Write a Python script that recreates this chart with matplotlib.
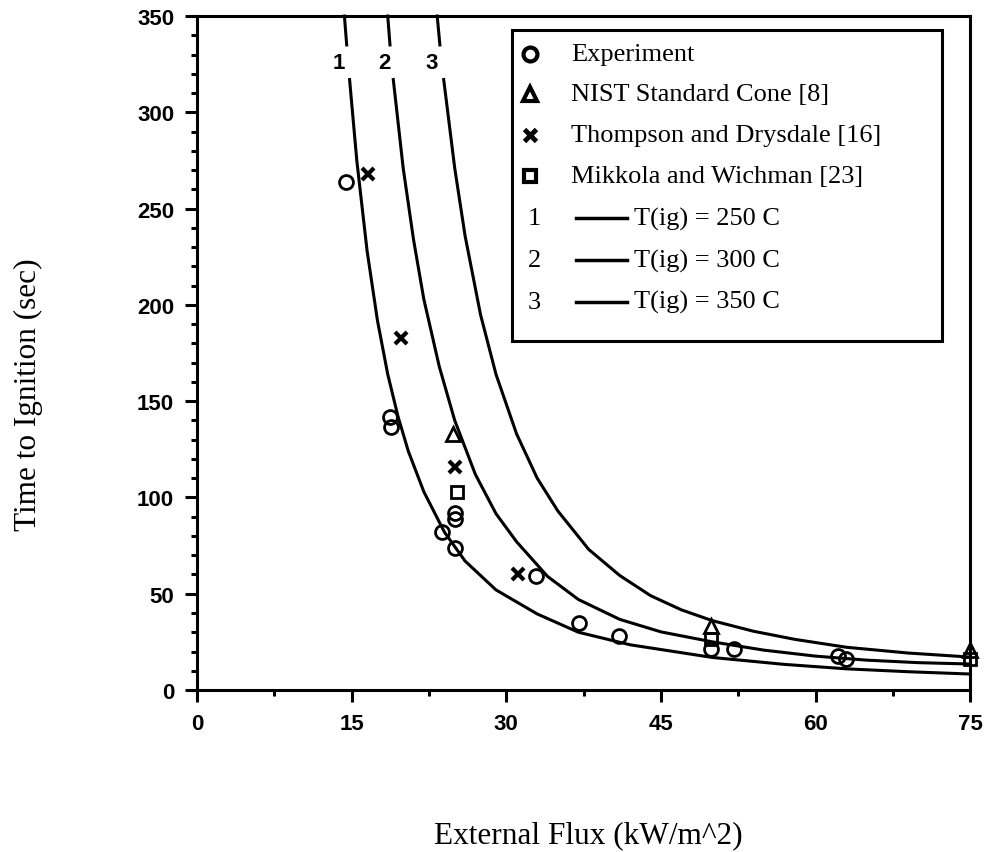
import numpy as np
import matplotlib
matplotlib.use("Agg")
import matplotlib.pyplot as plt
from matplotlib.patches import Rectangle
from matplotlib.ticker import MultipleLocator

nan = np.nan

# model curves (gap near the top for the 1/2/3 labels)
c1_x = [14.3, 14.52, nan, 14.8, 15.5, 16.5, 17.5, 18.5, 19.5, 20.5, 22.0, 24.0, 26.0,
        29.0, 33.0, 37.0, 42.0, 50.0, 57.0, 63.0, 69.0, 75.0]
c1_y = [350, 335, nan, 317, 275, 228, 192, 164, 142, 124, 103, 82, 67,
        52, 39.5, 30, 23.5, 16.9, 13.3, 11.0, 9.5, 8.3]

c2_x = [18.5, 18.72, nan, 19.04, 20.0, 21.0, 22.0, 23.5, 25.0, 27.0, 29.0, 31.0,
        34.0, 37.0, 41.0, 45.0, 50.0, 55.0, 60.0, 65.0, 70.0, 75.0]
c2_y = [350, 335, nan, 317, 271, 234, 203, 168, 140, 112, 91.6, 77,
        59, 47, 36.7, 30.2, 25, 20.7, 17.6, 15.5, 14.2, 13.5]

c3_x = [23.3, 23.56, nan, 23.93, 25.0, 26.0, 27.5, 29.0, 31.0, 33.0, 35.0, 38.0,
        41.0, 44.0, 47.0, 50.0, 54.0, 58.0, 63.0, 69.0, 75.0]
c3_y = [350, 335, nan, 317, 271, 236, 195, 164, 133, 110, 93, 73,
        59.5, 49, 41.6, 36, 30.5, 26.3, 22.2, 19.2, 17.1]

curve_labels = ["1", "2", "3"]
curve_label_x = [13.75, 18.2, 22.8]
curve_label_y = 326

# measured points
exp_x = [14.5, 18.7, 18.8, 23.8, 25.0, 25.0, 25.0, 32.9, 37.1, 40.9, 49.9, 52.1, 62.2, 63.0]
exp_y = [264, 142, 136.5, 82, 92, 89, 74, 59, 35, 28, 21.3, 21.3, 17.7, 16.1]

nist_x = [24.8, 49.9, 75.0]
nist_y = [133, 33, 21]

td_x = [16.6, 19.8, 25.0, 31.1]
td_y = [268, 183, 116, 60]

mw_x = [25.2, 49.9, 75.0]
mw_y = [103, 26.5, 16]

legend_labels = ["Experiment", "NIST Standard Cone [8]",
                 "Thompson and Drysdale [16]", "Mikkola and Wichman [23]"]
line_labels = ["T(ig) = 250 C", "T(ig) = 300 C", "T(ig) = 350 C"]

serif = "Liberation Serif"
sans = "Liberation Sans"

fig = plt.figure(figsize=(9.92, 8.53), dpi=100)
ax = fig.add_axes([0.1986, 0.1899, 0.7794, 0.7901])

lw = 2.2
for cx, cy in [(c1_x, c1_y), (c2_x, c2_y), (c3_x, c3_y)]:
    ax.plot(cx, cy, color="black", lw=lw, clip_on=False)

for lab, lx in zip(curve_labels, curve_label_x):
    ax.text(lx, curve_label_y, lab, fontfamily=sans, fontweight="bold",
            fontsize=16, ha="center", va="center")

ms = 10
ax.plot(exp_x, exp_y, "o", mfc="none", mec="black", mew=2, ms=ms, clip_on=False)
ax.plot(nist_x, nist_y, "^", mfc="none", mec="black", mew=2, ms=ms, clip_on=False)
ax.plot(td_x, td_y, "x", color="black", mew=3, ms=8, clip_on=False)
ax.plot(mw_x, mw_y, "s", mfc="none", mec="black", mew=2, ms=ms - 1, clip_on=False)

ax.set_xlim(0, 75)
ax.set_ylim(0, 350)
ax.xaxis.set_major_locator(MultipleLocator(15))
ax.xaxis.set_minor_locator(MultipleLocator(7.5))
ax.yaxis.set_major_locator(MultipleLocator(50))
ax.yaxis.set_minor_locator(MultipleLocator(10))
ax.tick_params(which="both", direction="out", width=2.2, top=False, right=False)
ax.tick_params(which="major", length=8.5)
ax.tick_params(which="minor", length=4.3)
ax.tick_params(axis="x", which="major", pad=8)
ax.tick_params(axis="y", which="major", pad=8)
for s in ax.spines.values():
    s.set_linewidth(2.2)
for t in ax.get_xticklabels() + ax.get_yticklabels():
    t.set_fontfamily(sans)
    t.set_fontweight("bold")
    t.set_fontsize(16)

# hand-made legend box
ax.add_patch(Rectangle((0.408, 0.518), 0.556, 0.461, transform=ax.transAxes,
                       fill=False, lw=2.2, ec="black", zorder=5))
rows = [0.944, 0.884, 0.823, 0.762, 0.700, 0.638, 0.576]
marks = [dict(marker="o", mfc="none", mec="black", mew=3, ms=10),
         dict(marker="^", mfc="none", mec="black", mew=3, ms=10),
         dict(marker="x", color="black", mew=3.5, ms=8),
         dict(marker="s", mfc="none", mec="black", mew=3, ms=9)]
for r, lab, mk in zip(rows[:4], legend_labels, marks):
    ax.plot([0.431], [r], transform=ax.transAxes, clip_on=False, ls="none", **mk)
    ax.text(0.484, r, lab, transform=ax.transAxes, fontfamily=serif,
            fontsize=19, va="center", ha="left")
for r, num, lab in zip(rows[4:], curve_labels, line_labels):
    ax.text(0.436, r, num, transform=ax.transAxes, fontfamily=serif,
            fontsize=19, va="center", ha="center")
    ax.plot([0.490, 0.556], [r, r], transform=ax.transAxes, color="black",
            lw=2.5, clip_on=False)
    ax.text(0.565, r, lab, transform=ax.transAxes, fontfamily=serif,
            fontsize=19, va="center", ha="left")

fig.text(588 / 992, 1 - 836 / 853, "External Flux (kW/m^2)", fontfamily=serif,
         fontsize=22.5, ha="center", va="center")
fig.text(28 / 992, 1 - 395 / 853, "Time to Ignition (sec)", fontfamily=serif,
         fontsize=22.5, ha="center", va="center", rotation=90)

fig.savefig("out.png", dpi=100)
